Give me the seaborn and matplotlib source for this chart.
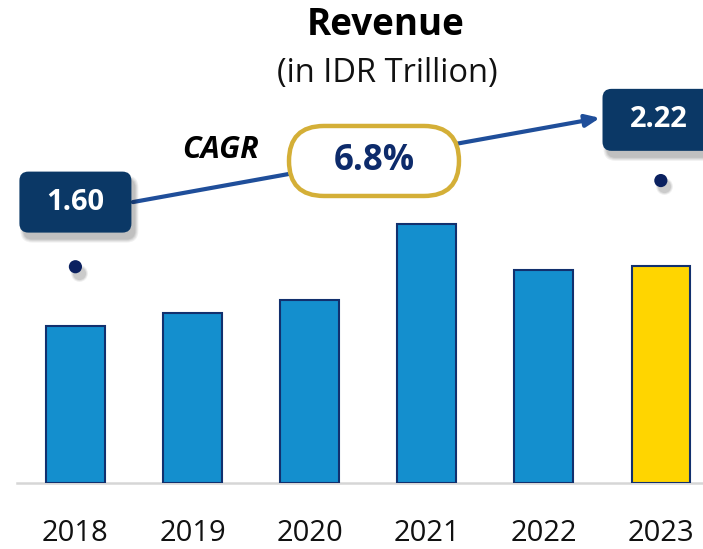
import matplotlib
matplotlib.use("Agg")
import matplotlib.pyplot as plt
import matplotlib.patches as mpatches
from matplotlib.transforms import ScaledTranslation
import pandas as pd
import seaborn as sns


# DATA
years = ["2018", "2019", "2020", "2021", "2022", "2023"]
revenue = [1.60, 1.74, 1.87, 2.65, 2.18, 2.22]
bar_colors = ["#148FCE", "#148FCE", "#148FCE", "#148FCE", "#148FCE", "#FFD500"]
start_label = "1.60"
end_label = "2.22"
cagr_label = "6.8%"
marker_x = [0, 5]
marker_y = [2.21, 3.09]

NAVY_BOX = "#0B3866"
NAVY_TXT = "#0D2B6B"
ARROW = "#1F4E9A"
GOLD = "#D4AF37"

sns.set_theme(style="white")
plt.rcParams["font.family"] = ["Open Sans", "DejaVu Sans"]

df = pd.DataFrame({"Year": years, "Revenue": revenue})

fig = plt.figure(figsize=(7.03, 5.49), dpi=100)
ax = fig.add_axes([0.024, 0.120, 0.976, 0.880])

sns.barplot(
    data=df, x="Year", y="Revenue", hue="Year", palette=bar_colors,
    legend=False, width=0.5, edgecolor="#12306E", linewidth=1.5,
    saturation=1, ax=ax, zorder=3
)

ax.set_xlim(-0.5, 5.36)
ax.set_ylim(0, 4.934)
ax.set_xlabel("")
ax.set_ylabel("")
ax.set_yticks([])
for side in ["left", "top", "right"]:
    ax.spines[side].set_visible(False)
ax.spines["bottom"].set_color("#D6D6D6")
ax.spines["bottom"].set_linewidth(1.8)
ax.tick_params(axis="x", length=0, pad=25.5, labelsize=21, labelcolor="#111111")


def px_trans(x, y):
    # offset in inches around a data point
    return fig.dpi_scale_trans + ScaledTranslation(x, y, ax.transData)


def rounded_box(x, y, w_px, h_px, r_px, face, edge="none", lw=0, shadow=True, z=5):
    w, h, r = w_px / 100, h_px / 100, r_px / 100
    if shadow:
        for i, a in enumerate([0.06, 0.06, 0.07, 0.08]):
            grow = (3 - i) * 0.02
            sh = mpatches.FancyBboxPatch(
                (-w / 2 + 0.04 - grow / 2, -h / 2 - 0.07 - grow / 2), w + grow, h + grow,
                boxstyle=f"round,pad=0,rounding_size={r + grow / 2}",
                facecolor="black", edgecolor="none", alpha=a,
                transform=px_trans(x, y), clip_on=False, zorder=z - 1
            )
            ax.add_patch(sh)
    box = mpatches.FancyBboxPatch(
        (-w / 2, -h / 2), w, h, boxstyle=f"round,pad=0,rounding_size={r}",
        facecolor=face, edgecolor=edge, linewidth=lw,
        transform=px_trans(x, y), clip_on=False, zorder=z
    )
    ax.add_patch(box)


# markers above first and last bar
for mx, my in zip(marker_x, marker_y):
    for k, a in enumerate([0.05, 0.07, 0.09]):
        ax.scatter(mx + 0.03, my - 0.06, s=150 - k * 30, color="black", alpha=a,
                   linewidths=0, zorder=4, clip_on=False)
sns.scatterplot(x=marker_x, y=marker_y, s=90, color="#0B2160", edgecolor="none",
                ax=ax, zorder=6, legend=False)

# growth arrow
ax.annotate(
    "", xy=(4.48, 3.73), xytext=(0.49, 2.87),
    arrowprops=dict(arrowstyle="-|>,head_length=0.7,head_width=0.3",
                    color=ARROW, lw=3, shrinkA=0, shrinkB=0),
    zorder=4, annotation_clip=False
)

# value boxes
rounded_box(0.0, 2.87, 112, 61, 9, NAVY_BOX)
ax.text(0.0, 2.87, start_label, ha="center", va="center", color="white",
        fontsize=21, fontweight="bold", zorder=7)

rounded_box(4.98, 3.71, 112, 62, 9, NAVY_BOX)
ax.text(4.98, 3.71, end_label, ha="center", va="center", color="white",
        fontsize=21, fontweight="bold", zorder=7)

# CAGR pill
rounded_box(2.55, 3.29, 170, 70, 35, "white", edge=GOLD, lw=3.2, shadow=False, z=6)
ax.text(2.55, 3.29, cagr_label, ha="center", va="center", color=NAVY_TXT,
        fontsize=25, fontweight="bold", zorder=7)
ax.text(1.24, 3.40, "CAGR", ha="center", va="center", color="black",
        fontsize=22, fontweight="bold", fontstyle="italic", zorder=7)

# titles
fig.text(0.548, 0.936, "Revenue", ha="center", va="baseline",
         fontsize=26.5, fontweight="bold", color="black")
fig.text(0.551, 0.8506, "(in IDR Trillion)", ha="center", va="baseline",
         fontsize=23.5, color="#111111")

fig.savefig("out.png", dpi=100)
